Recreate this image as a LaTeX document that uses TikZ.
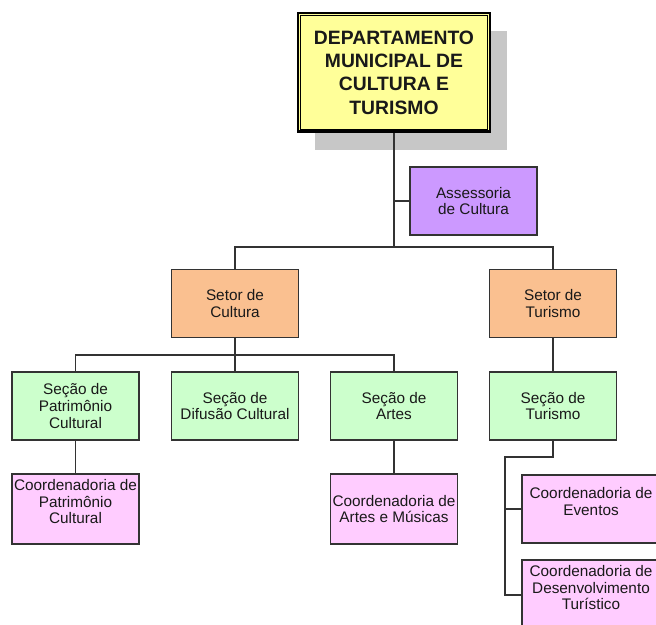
\documentclass[tikz,border=0pt]{standalone}
\usepackage{fontspec}
\setmainfont{Liberation Sans}
\usetikzlibrary{shadows}
\definecolor{amarelo}{HTML}{FFFF99}
\definecolor{lilas}{HTML}{CC99FF}
\definecolor{laranja}{HTML}{FAC090}
\definecolor{verde}{HTML}{CCFFCC}
\definecolor{rosa}{HTML}{FFCCFF}
\definecolor{traco}{HTML}{333333}

\begin{document}
\begin{tikzpicture}[x=0.75pt,y=-0.75pt,
	caixa/.style={draw=traco,line width=1pt,align=center,inner sep=0pt,minimum width=95.25pt,minimum height=51pt,text=black!90,font=\fontsize{11.5}{12.5}\selectfont},
	linha/.style={draw=traco,line width=1pt},
	subir/.style={execute at end node={\rule[-11pt]{0pt}{0pt}}}]
	\useasboundingbox (0,0) rectangle (656,624);
	\clip (0,0) rectangle (656,624);
	% topo
	\node at (394,72.5)[draw=black,line width=2pt,fill=amarelo,minimum width=144pt,minimum height=89pt,align=center,inner sep=0pt,
		font=\fontsize{14.5}{17.5}\selectfont\bfseries,text=black!90,
		drop shadow={shadow xshift=12.75pt,shadow yshift=-13.5pt,fill=black!22,opacity=1}] (dept)
		{DEPARTAMENTO\\MUNICIPAL DE\\CULTURA E\\TURISMO};
	\draw[line width=0.8pt] ([shift={(4,4)}]dept.north west) rectangle ([shift={(-4,-4)}]dept.south east);
	\node at (473.5,201)[caixa,fill=lilas] (assess) {Assessoria\\de Cultura};
	% setores
	\node at (235,303.5)[caixa,fill=laranja] (setorC) {Setor de\\Cultura};
	\node at (553,303.5)[caixa,fill=laranja] (setorT) {Setor de\\Turismo};
	% secoes
	\node at (75.5,406)[caixa,fill=verde] (secP) {Seção de\\Patrimônio\\Cultural};
	\node at (235,406)[caixa,fill=verde] (secD) {Seção de\\Difusão Cultural};
	\node at (394,406)[caixa,fill=verde] (secA) {Seção de\\Artes};
	\node at (553,406)[caixa,fill=verde] (secT) {Seção de\\Turismo};
	% coordenadorias
	\node at (75.5,509)[caixa,fill=rosa,minimum height=52.5pt,subir] (coordP) {Coordenadoria de\\Patrimônio\\Cultural};
	\node at (394,509)[caixa,fill=rosa,minimum height=52.5pt] (coordA) {Coordenadoria de\\Artes e Músicas};
	\node at (591,509)[caixa,fill=rosa,minimum width=103.5pt,subir] (coordE) {Coordenadoria de\\Eventos};
	\node at (591,595)[caixa,fill=rosa,minimum width=103.5pt,minimum height=52.5pt,subir] (coordD) {Coordenadoria de\\Desenvolvimento\\Turístico};
	% ligacoes
	\coordinate (b1) at (394,247);
	\coordinate (b2) at (235,355);
	\coordinate (b3) at (553,457);
	\coordinate (b4) at (505,457);
	\draw[linha] (dept.south) -- (b1);
	\draw[linha] (assess.west) -- (assess.west -| dept.south);
	\draw[linha] (setorC.north) |- (b1) -| (setorT.north);
	\draw[linha] (setorC.south) -- (b2);
	\draw[linha] (secP.north) |- (b2) -| (secA.north);
	\draw[linha] (b2) -- (secD.north);
	\draw[linha] (setorT.south) -- (secT.north);
	\draw[linha] (secP.south) -- (coordP.north);
	\draw[linha] (secA.south) -- (coordA.north);
	\draw[linha] (secT.south) -- (b3) -- (b4) |- (coordD.west);
	\draw[linha] (coordE.west) -- (coordE.west -| b4);
\end{tikzpicture}
\end{document}
